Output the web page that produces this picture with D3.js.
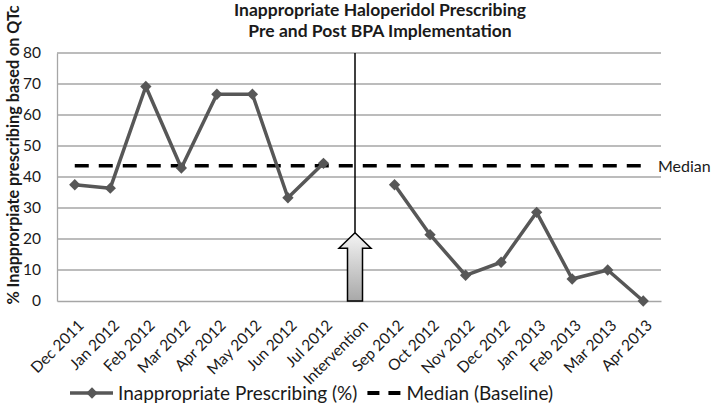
<!DOCTYPE html>
<html>
<head>
<meta charset="utf-8">
<script src="https://cdn.jsdelivr.net/npm/d3@7"></script>
<style>
  html, body { margin: 0; padding: 0; background: #fff; }
  svg { display: block; }
  text { font-family: Lato, "Open Sans", "Liberation Sans", sans-serif; fill: #1a1a1a; }
</style>
</head>
<body>
<svg id="chart" width="714" height="406"></svg>
<script>
// ---- data ----
const categories = ["Dec 2011","Jan 2012","Feb 2012","Mar 2012","Apr 2012","May 2012","Jun 2012","Jul 2012",
  "Intervention","Sep 2012","Oct 2012","Nov 2012","Dec 2012","Jan 2013","Feb 2013","Mar 2013","Apr 2013"];
const prescribing = [37.5, 36.4, 69.2, 42.9, 66.7, 66.7, 33.3, 44.4, null, 37.5, 21.4, 8.3, 12.5, 28.6, 7.1, 10.0, 0];
const medianBaseline = 43.65;
const yTicks = [0, 10, 20, 30, 40, 50, 60, 70, 80];
const titleLines = ["Inappropriate Haloperidol Prescribing", "Pre and Post BPA Implementation"];
const yTitle = "% Inapprorpiate prescribing based on QTc";
const legendLabels = ["Inappropriate Prescribing (%)", "Median (Baseline)"];
const medianLabel = "Median";
const interventionCategory = "Intervention";
const arrowTipValue = 22;
const arrowHeadBaseValue = 17;

(function () {
// ---- layout ----
const svg = d3.select("#chart");
const pLeft = 57, pRight = 661, pTop = 53, pBottom = 301;
const x = d3.scaleBand().domain(categories).range([pLeft, pRight]).padding(0);
const cx = c => x(c) + x.bandwidth() / 2;
const y = d3.scaleLinear().domain([0, 80]).range([pBottom, pTop]);

const gridColor = "#a6a6a6";
const lineColor = "#575757";
const fontFam = "Lato, 'Open Sans', sans-serif";

// gridlines
svg.append("g").selectAll("line").data(yTicks.filter(d => d > 0)).join("line")
  .attr("x1", pLeft).attr("x2", pRight)
  .attr("y1", d => y(d)).attr("y2", d => y(d))
  .attr("stroke", gridColor).attr("stroke-width", 1.3);

// axes
const yAxis = d3.axisLeft(y).tickValues(yTicks).tickSize(0).tickPadding(16);
const gy = svg.append("g").attr("transform", `translate(${pLeft},0)`).call(yAxis);
gy.select(".domain").attr("stroke", gridColor).attr("stroke-width", 1.3);
gy.selectAll("text").attr("font-size", 15.5).attr("fill", "#1a1a1a").style("font-family", fontFam);

const xAxis = d3.axisBottom(x).tickSize(0).tickPadding(0);
const gx = svg.append("g").attr("transform", `translate(0,${pBottom})`).call(xAxis);
gx.select(".domain").attr("stroke", gridColor).attr("stroke-width", 1.3);
gx.selectAll(".tick text")
  .attr("font-size", 15.5).attr("fill", "#1a1a1a")
  .style("font-family", fontFam)
  .attr("text-anchor", "end")
  .attr("dy", 0).attr("y", 0).attr("x", 0)
  .attr("transform", "translate(10,25.5) rotate(-45)");

// median line
svg.append("line")
  .attr("x1", cx(categories[0])).attr("x2", cx(categories[categories.length - 1]))
  .attr("y1", y(medianBaseline)).attr("y2", y(medianBaseline))
  .attr("stroke", "#000").attr("stroke-width", 3.5)
  .attr("stroke-dasharray", "14,10");
svg.append("text").attr("x", pRight - 3).attr("y", y(medianBaseline) + 6)
  .attr("font-size", 16).text(medianLabel);

// intervention line + arrow
const ix = cx(interventionCategory) - 4;
svg.append("line").attr("x1", ix).attr("x2", ix)
  .attr("y1", y(80)).attr("y2", y(arrowTipValue))
  .attr("stroke", "#000").attr("stroke-width", 1.5);
const defs = svg.append("defs");
const grad = defs.append("linearGradient").attr("id", "arrowGrad")
  .attr("x1", 0).attr("y1", 0).attr("x2", 0).attr("y2", 1);
grad.append("stop").attr("offset", "0%").attr("stop-color", "#f4f4f4");
grad.append("stop").attr("offset", "100%").attr("stop-color", "#a8a8a8");
const headHalf = 16, shaftHalf = 7.5;
const arrowPts = [
  [ix, y(arrowTipValue)],
  [ix + headHalf, y(arrowHeadBaseValue)],
  [ix + shaftHalf, y(arrowHeadBaseValue)],
  [ix + shaftHalf, y(0)],
  [ix - shaftHalf, y(0)],
  [ix - shaftHalf, y(arrowHeadBaseValue)],
  [ix - headHalf, y(arrowHeadBaseValue)]
];
svg.append("path").attr("d", d3.line()(arrowPts) + "Z")
  .attr("fill", "url(#arrowGrad)").attr("stroke", "#000").attr("stroke-width", 1.5)
  .attr("stroke-linejoin", "miter");

// data line
const pts = categories.map((c, i) => ({ c, v: prescribing[i] }));
svg.append("path").datum(pts)
  .attr("d", d3.line().defined(d => d.v !== null).x(d => cx(d.c)).y(d => y(d.v)))
  .attr("fill", "none").attr("stroke", lineColor).attr("stroke-width", 3.5)
  .attr("stroke-linejoin", "round");
const diamond = d3.symbol().type(d3.symbolSquare).size(64);
svg.append("g").selectAll("path").data(pts.filter(d => d.v !== null)).join("path")
  .attr("d", diamond)
  .attr("transform", d => `translate(${cx(d.c)},${y(d.v)}) rotate(45)`)
  .attr("fill", lineColor);

// title
svg.append("g").selectAll("text").data(titleLines).join("text")
  .attr("x", 380).attr("y", (d, i) => 16 + i * 21)
  .attr("text-anchor", "middle").attr("font-size", 17.5).attr("font-weight", "bold")
  .text(d => d);

// y title
svg.append("text").attr("transform", "translate(19,155) rotate(-90)")
  .attr("text-anchor", "middle").attr("font-size", 16.2).attr("font-weight", "bold")
  .text(yTitle);

// legend
const ly = 393;
const lg = svg.append("g");
lg.append("line").attr("x1", 70).attr("x2", 113).attr("y1", ly).attr("y2", ly)
  .attr("stroke", lineColor).attr("stroke-width", 3.5);
lg.append("path").attr("d", diamond).attr("transform", `translate(92,${ly}) rotate(45)`).attr("fill", lineColor);
const t1 = lg.append("text").attr("x", 118).attr("y", ly + 6.5).attr("font-size", 19).text(legendLabels[0]);
const t1End = 118 + t1.node().getComputedTextLength();
lg.append("line").attr("x1", t1End + 10).attr("x2", t1End + 43).attr("y1", ly).attr("y2", ly)
  .attr("stroke", "#000").attr("stroke-width", 4).attr("stroke-dasharray", "12,9");
lg.append("text").attr("x", t1End + 49).attr("y", ly + 6.5).attr("font-size", 19).text(legendLabels[1]);
})();
</script>
</body>
</html>
